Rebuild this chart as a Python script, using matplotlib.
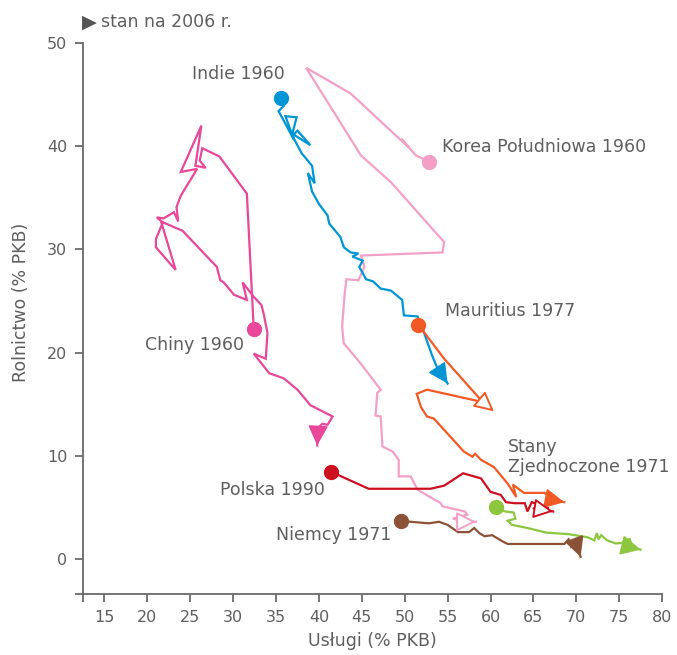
import matplotlib
matplotlib.use('Agg')
import matplotlib.pyplot as plt

# dane: usługi (% PKB), rolnictwo (% PKB)
chiny_x = [32.4, 31.6, 28.4, 26.4, 26.1, 26.8, 25.6, 26.3, 23.9, 25.8, 23.9, 23.4, 23.6, 23.1,
           21.9, 21.1, 21.8, 21.0, 21.0, 23.3, 21.6, 24.1, 28.1, 28.5, 28.9, 30.1, 31.6, 31.1,
           32.4, 33.3, 33.6, 34.0, 33.8, 32.4, 34.2, 35.9, 37.5, 39.0, 41.6, 41.0, 40.4, 39.9, 39.8]
chiny_y = [22.3, 35.4, 39.0, 39.8, 38.6, 37.9, 38.1, 42.0, 37.5, 37.8, 35.2, 34.1, 32.7, 33.6,
           33.0, 33.1, 32.6, 31.0, 30.2, 28.0, 32.7, 31.8, 28.3, 27.0, 26.8, 25.6, 25.1, 26.8,
           25.4, 24.6, 23.6, 21.9, 19.4, 19.9, 18.0, 17.5, 16.4, 14.9, 13.8, 13.0, 13.1, 12.7, 11.0]

indie_x = [35.6, 35.9, 35.3, 37.1, 36.1, 37.4, 36.9, 39.0, 37.5, 36.9, 38.0, 39.2, 39.5, 38.7,
           39.2, 40.0, 41.0, 41.2, 42.5, 42.9, 43.7, 44.6, 43.9, 45.1, 44.7, 45.5, 46.3, 47.2,
           48.4, 49.7, 49.9, 51.5, 52.3, 53.2, 53.8, 55.0]
indie_y = [44.7, 43.9, 43.4, 40.6, 42.9, 42.8, 41.2, 40.1, 41.5, 41.0, 39.3, 38.1, 36.4, 37.4,
           35.6, 34.4, 33.3, 32.5, 31.2, 30.2, 29.7, 29.6, 29.3, 28.9, 28.3, 27.1, 26.9, 26.2,
           26.0, 25.1, 23.6, 23.5, 21.8, 19.7, 18.5, 17.0]

korea_x = [52.8, 51.3, 49.6, 50.5, 49.4, 43.7, 38.5, 44.9, 48.4, 54.6, 54.4, 44.9, 45.3, 44.6,
           43.2, 43.0, 42.7, 42.9, 44.9, 47.2, 46.8, 46.6, 47.2, 47.4, 48.6, 49.3, 49.3, 50.7,
           51.5, 54.2, 54.4, 57.0, 57.3, 55.6, 57.2, 58.3]
korea_y = [38.5, 39.1, 40.7, 39.9, 40.7, 45.1, 47.6, 39.1, 36.5, 30.7, 29.7, 29.4, 28.3, 27.0,
           27.1, 25.7, 22.5, 20.9, 18.9, 16.4, 16.1, 13.9, 13.8, 10.9, 10.4, 9.6, 8.0, 8.0,
           6.7, 5.4, 5.1, 4.6, 4.3, 3.9, 3.6, 3.6]

mauritius_x = [51.6, 52.5, 54.6, 59.1, 52.6, 51.4, 51.9, 52.6, 53.4, 56.9, 57.9, 58.2, 58.9,
               60.4, 62.0, 63.0, 62.6, 63.9, 66.3, 67.4, 68.6]
mauritius_y = [22.7, 21.7, 19.4, 15.2, 16.4, 16.0, 14.7, 13.8, 13.6, 10.4, 9.9, 10.2, 9.6,
               8.9, 7.3, 6.0, 7.2, 6.4, 6.4, 5.7, 5.5]

polska_x = [41.4, 45.8, 53.0, 54.6, 56.8, 58.9, 60.0, 61.2, 61.8, 62.8, 64.0, 64.3, 64.8, 66.8,
            65.0, 67.3]
polska_y = [8.45, 6.8, 6.8, 7.1, 8.3, 7.8, 6.5, 6.2, 5.5, 5.4, 5.4, 4.6, 5.5, 4.9, 4.9, 4.6]

niemcy_x = [49.6, 50.7, 52.8, 54.0, 55.0, 56.2, 57.5, 58.1, 58.7, 59.3, 60.2, 61.4, 62.0, 68.6,
            69.1, 69.4, 69.9, 70.5]
niemcy_y = [3.7, 3.6, 3.45, 3.6, 3.3, 2.6, 2.6, 3.0, 2.5, 2.2, 2.3, 1.7, 1.45, 1.45, 1.9, 1.2,
            1.6, 0.2]

usa_x = [60.6, 61.7, 62.7, 62.9, 62.0, 62.5, 64.3, 66.5, 69.1, 71.3, 72.1, 72.4, 72.6, 72.9,
         73.6, 74.6, 76.0, 76.2, 76.5, 77.5]
usa_y = [5.0, 4.6, 4.5, 3.9, 3.7, 3.3, 3.0, 2.55, 2.4, 2.1, 1.8, 2.5, 1.9, 2.3, 1.8, 1.5, 1.6,
         2.0, 1.1, 0.9]

kraje = [
    # x, y, kolor, pusta strzałka, etykieta, pozycja etykiety, wyrównanie
    (chiny_x, chiny_y, '#E8479A', False, 'Chiny 1960', (31.3, 20.7), 'right'),
    (korea_x, korea_y, '#F3A0C6', True, 'Korea Południowa 1960', (54.4, 39.9), 'left'),
    (indie_x, indie_y, '#0096D6', False, 'Indie 1960', (30.6, 47.0), 'center'),
    (mauritius_x, mauritius_y, '#F15A24', False, 'Mauritius 1977', (54.7, 24.0), 'left'),
    (polska_x, polska_y, '#CC1020', True, 'Polska 1990', (40.7, 6.7), 'right'),
    (niemcy_x, niemcy_y, '#8C5237', False, 'Niemcy 1971', (48.5, 2.3), 'right'),
    (usa_x, usa_y, '#8DC63F', False, 'Stany\nZjednoczone 1971', (62.0, 9.9), 'left'),
]

szary = '#5e5e5e'
grot = '-|>,head_length=0.75,head_width=0.38'
plt.rcParams['font.family'] = ['DejaVu Sans']

fig = plt.figure(figsize=(6.77, 6.55), dpi=100)
ax = fig.add_axes([0.1226, 0.0931, 0.8554, 0.8413])

for x, y, kolor, pusta, etykieta, pos, ha in kraje:
    ax.plot(x, y, color=kolor, lw=1.6, solid_joinstyle='miter', zorder=2)
    ax.plot(x[0], y[0], 'o', color=kolor, ms=10, zorder=3)
    fc = 'white' if pusta else kolor
    ax.annotate('', xy=(x[-1], y[-1]), xytext=(x[-2], y[-2]),
                arrowprops=dict(arrowstyle=grot, fc=fc, ec=kolor, lw=1.4, mutation_scale=16,
                                shrinkA=0, shrinkB=0), zorder=3)
    ax.text(pos[0], pos[1], etykieta, color=szary, fontsize=12.5, ha=ha, va='center',
            linespacing=1.15)

# pusty trójkąt w środku ścieżki Mauritiusa
ax.annotate('', xy=(60.4, 14.3), xytext=(mauritius_x[3], mauritius_y[3]),
            arrowprops=dict(arrowstyle=grot, fc='white', ec='#F15A24', lw=1.4,
                            mutation_scale=16, shrinkA=0, shrinkB=0), zorder=3)

ax.set_xlim(12.5, 80)
ax.set_ylim(-3.4, 50)
ax.set_xticks([12.5] + list(range(15, 81, 5)))
ax.set_xticklabels([''] + [str(v) for v in range(15, 81, 5)])
ax.set_yticks([-3.4] + list(range(0, 51, 10)))
ax.set_yticklabels([''] + [str(v) for v in range(0, 51, 10)])
for s in ['top', 'right']:
    ax.spines[s].set_visible(False)
for s in ['left', 'bottom']:
    ax.spines[s].set_color('#6a6a6a')
    ax.spines[s].set_linewidth(1.3)
ax.tick_params(colors='#6a6a6a', labelcolor=szary, labelsize=11.5, length=5.8, width=1.3,
               pad=5.5)

ax.set_xlabel('Usługi (% PKB)', color=szary, fontsize=12.5)
ax.set_ylabel('Rolnictwo (% PKB)', color=szary, fontsize=12.5)
ax.xaxis.set_label_coords(0.5, -0.069)
ax.yaxis.set_label_coords(-0.092, 0.53)

fig.text(0.121, 0.966, '▶', color='#555555', fontsize=14, va='center')
fig.text(0.149, 0.966, 'stan na 2006 r.', color=szary, fontsize=12.5, va='center')

fig.savefig('out.png', dpi=100)
